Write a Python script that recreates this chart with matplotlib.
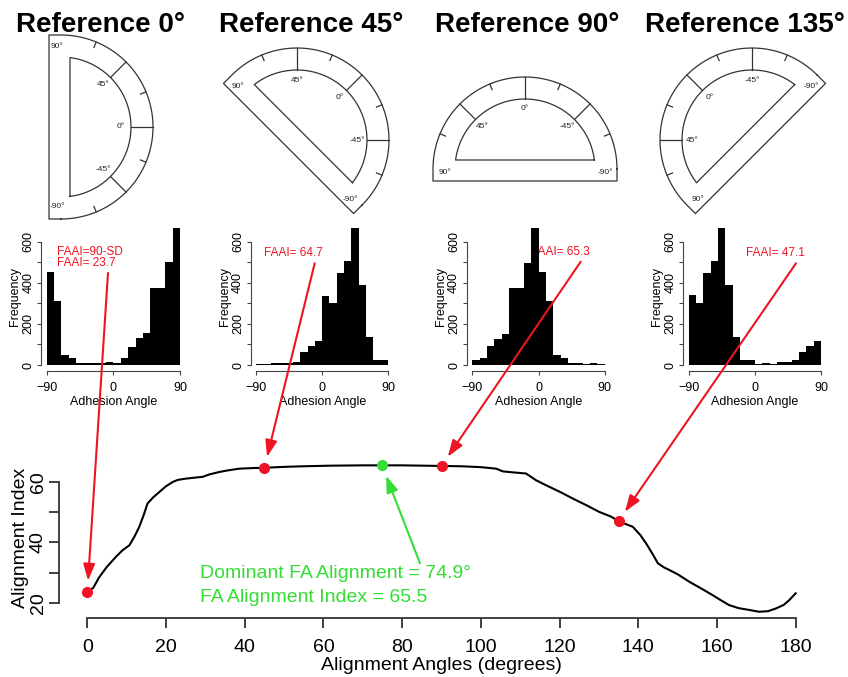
import matplotlib
matplotlib.use("Agg")
import matplotlib.pyplot as plt
import numpy as np

plt.rcParams["font.family"] = ["Liberation Sans", "DejaVu Sans"]

RED = "#ee1424"
GREEN = "#33dd33"
LINE = "#333333"

# ---------------- data ----------------
ref_titles = ["Reference 0°", "Reference 45°", "Reference 90°", "Reference 135°"]
ref_angles = [0, 45, 90, 135]

bin_edges = [-90, -80, -70, -60, -50, -40, -30, -20, -10, 0,
             10, 20, 30, 40, 50, 60, 70, 80, 90]
hist_ref0 = [454, 313, 49, 32, 11, 8, 8, 11, 16, 11, 32, 89, 130, 154, 373, 373, 502, 664]
hist_ref45 = [3, 5, 8, 11, 11, 16, 65, 92, 118, 335, 300, 446, 507, 664, 389, 135, 24, 24]
hist_ref90 = [24, 32, 92, 125, 151, 373, 373, 498, 664, 454, 313, 49, 32, 11, 11, 3, 8, 3]
hist_ref135 = [340, 300, 446, 507, 664, 389, 135, 24, 24, 5, 8, 5, 16, 16, 24, 65, 92, 118]

faai_values = [23.7, 64.7, 65.3, 47.1]
faai_labels = [["FAAI=90-SD", "FAAI= 23.7"], ["FAAI= 64.7"], ["FAAI= 65.3"], ["FAAI= 47.1"]]

align_angles = [0, 1.5, 3, 5, 7.3, 9, 10.7, 12, 13.2, 14.3, 15.3, 16.8, 18.3, 20, 21.7,
                23, 25, 27, 29.3, 31, 33.5, 36, 38.6, 42, 45, 50, 55, 62, 70, 74.9, 80,
                85, 90, 95, 100, 103.9, 105.6, 108, 111.5, 114, 116.6, 120, 123.4, 127,
                130.1, 133, 135, 137, 138.6, 140.5, 142, 143.5, 145, 146.5, 147.9, 150,
                153, 156, 158.9, 161, 163.1, 165.5, 168.2, 170.7, 173, 175, 177, 178.4, 180]
align_index = [23.7, 25.0, 28.5, 32.0, 35.3, 37.5, 39.1, 42.0, 45.2, 49.0, 52.9, 55.0, 56.7,
               58.6, 60.0, 60.7, 61.1, 61.4, 61.7, 62.5, 63.3, 63.9, 64.4, 64.6, 64.7, 65.0,
               65.2, 65.4, 65.5, 65.5, 65.5, 65.4, 65.3, 65.2, 64.9, 64.4, 63.5, 63.2, 62.8,
               60.6, 58.9, 56.8, 54.5, 52.2, 50.1, 48.6, 47.1, 46.0, 45.2, 42.5, 39.7, 36.5,
               33.1, 31.8, 30.9, 29.5, 27.0, 24.8, 22.6, 20.9, 19.3, 18.3, 17.7, 17.1, 17.3,
               18.2, 19.4, 21.0, 23.2]

dominant_angle = 74.9
dominant_index = 65.5

# ---------------- figure ----------------
W, H = 848, 677
fig = plt.figure(figsize=(W / 100, H / 100), dpi=100)


def rect(l, t, r, b):
    return [l / W, 1 - b / H, (r - l) / W, (b - t) / H]


def fpt(x, y):
    return (x / W, 1 - y / H)


overlay = fig.add_axes([0, 0, 1, 1], zorder=0)
overlay.set_xlim(0, W)
overlay.set_ylim(H, 0)
overlay.axis("off")


def protractor(ax, cx, cy, ref):
    R, r, back, front = 92, 70, 12, 9

    def P(rad, ang):
        a = np.radians(ang)
        return cx + rad * np.cos(a), cy - rad * np.sin(a)

    bdx = back * np.cos(np.radians(ref + 180))
    bdy = -back * np.sin(np.radians(ref + 180))

    arc = np.linspace(ref - 90, ref + 90, 181)
    xs = [P(R, a)[0] for a in arc]
    ys = [P(R, a)[1] for a in arc]
    xs += [xs[-1] + bdx, xs[0] + bdx, xs[0]]
    ys += [ys[-1] + bdy, ys[0] + bdy, ys[0]]
    ax.plot(xs, ys, color=LINE, lw=0.9)

    t0 = np.degrees(np.arcsin(front / r))
    arc_in = np.linspace(ref - 90 + t0, ref + 90 - t0, 181)
    xi = [P(r, a)[0] for a in arc_in]
    yi = [P(r, a)[1] for a in arc_in]
    xi.append(xi[0])
    yi.append(yi[0])
    ax.plot(xi, yi, color=LINE, lw=0.9)

    for off in (-45, 0, 45):
        a = ref + off
        x0, y0 = P(r, a)
        x1, y1 = P(R, a)
        ax.plot([x0, x1], [y0, y1], color=LINE, lw=0.9)
        lx, ly = P(60, a)
        ax.text(lx, ly, f"{off}°", fontsize=6, color="#222222", ha="center", va="center")
    for off in (-67.5, -22.5, 22.5, 67.5):
        a = ref + off
        x0, y0 = P(R - 6, a)
        x1, y1 = P(R, a)
        ax.plot([x0, x1], [y0, y1], color=LINE, lw=0.9)
    for off in (-90, 90):
        px, py = P(80, ref + off)
        ax.text(px + bdx / 3, py + bdy / 3, f"{off}°", fontsize=6, color="#222222",
                ha="center", va="center")


proto_centres = [(61, 127), (297, 140), (525, 169), (752, 140)]
title_x = [101, 311, 527, 745]
for title, ref, (cx, cy), tx in zip(ref_titles, ref_angles, proto_centres, title_x):
    protractor(overlay, cx, cy, ref)
    overlay.text(tx, 25, title, fontsize=20, fontweight="bold", ha="center", va="center")

# ---------------- histograms ----------------
hist_lr = [(41.3, 185.3), (251, 393.3), (467, 610), (683.4, 826.3)]
hist_data = [hist_ref0, hist_ref45, hist_ref90, hist_ref135]
text_pos = [(57, 252), (263.7, 253), (530.7, 252), (746, 253)]
hist_axes = []
for (l, r), counts, lines, (tx, ty) in zip(hist_lr, hist_data, faai_labels, text_pos):
    ax = fig.add_axes(rect(l, 223, r, 370.5), zorder=2)
    ax.patch.set_alpha(0)
    for k, line in enumerate(lines):
        ax.text(*fpt(tx, ty + 11.5 * k), line, transform=fig.transFigure, color=RED,
                fontsize=8.5, ha="left", va="center", zorder=0.5)
    ax.stairs(counts, bin_edges, fill=True, color="black", zorder=2)
    ax.set_xlim(-97.2, 97.2)
    ax.set_ylim(-26.6, 690.6)
    for s in ("top", "right"):
        ax.spines[s].set_visible(False)
    for s in ("left", "bottom"):
        ax.spines[s].set_color("#444444")
        ax.spines[s].set_linewidth(0.8)
    ax.spines["left"].set_bounds(0, 600)
    ax.spines["bottom"].set_bounds(-90, 90)
    ax.set_xticks([-90, 0, 90])
    ax.set_yticks([0, 100, 200, 300, 400, 500, 600])
    ax.set_yticklabels(["0", "", "200", "", "400", "", "600"])
    ax.tick_params(length=3, width=0.8, color="#444444", labelsize=9, pad=2)
    ax.tick_params(axis="x", pad=5)
    for lab in ax.get_yticklabels():
        lab.set_rotation(90)
        lab.set_va("center")
    ax.set_xlabel("Adhesion Angle", fontsize=9, labelpad=2)
    ax.set_ylabel("Frequency", fontsize=9, labelpad=1)
    hist_axes.append(ax)

# ---------------- alignment index curve ----------------
main = fig.add_axes(rect(59, 458, 824, 618), zorder=5)
main.patch.set_visible(False)
main.plot(align_angles, align_index, color="black", lw=1.5)
main.plot(ref_angles, faai_values, "o", color=RED, ms=7, zorder=4)
main.plot([dominant_angle], [dominant_index], "o", color=GREEN, ms=7, zorder=4)
main.set_xlim(-7.2, 187.2)
main.set_ylim(15.04, 67.93)
for s in ("top", "right"):
    main.spines[s].set_visible(False)
for s in ("left", "bottom"):
    main.spines[s].set_linewidth(1.3)
    main.spines[s].set_color("#333333")
main.spines["left"].set_bounds(20, 60)
main.spines["bottom"].set_bounds(0, 180)
main.set_xticks(range(0, 181, 20))
main.set_yticks([20, 30, 40, 50, 60])
main.set_yticklabels(["20", "", "40", "", "60"])
main.tick_params(length=7, width=1.3, color="#333333", labelsize=14)
main.tick_params(axis="x", pad=8)
main.tick_params(axis="y", pad=2)
for lab in main.get_yticklabels():
    lab.set_rotation(90)
    lab.set_va("center")
main.set_xlabel("Alignment Angles (degrees)", fontsize=14, labelpad=1)
main.set_ylabel("Alignment Index", fontsize=14, labelpad=0)

arrow_starts = [(108, 273), (314.7, 263.3), (580.7, 261.7), (796, 263.3)]
for (sx, sy), ang, val in zip(arrow_starts, ref_angles, faai_values):
    main.annotate("", xy=(ang, val), xycoords="data", xytext=fpt(sx, sy),
                  textcoords="figure fraction", annotation_clip=False,
                  arrowprops=dict(arrowstyle="-|>,head_length=1.0,head_width=0.35",
                                  color=RED, lw=1.5, shrinkA=0, shrinkB=8,
                                  mutation_scale=10))

main.annotate("", xy=(dominant_angle, dominant_index), xycoords="data",
              xytext=fpt(420, 563.3), textcoords="figure fraction", annotation_clip=False,
              arrowprops=dict(arrowstyle="-|>,head_length=1.0,head_width=0.35",
                              color=GREEN, lw=1.5, shrinkA=0, shrinkB=8, mutation_scale=10))

fig.text(*fpt(200, 573), f"Dominant FA Alignment = {dominant_angle}°", color=GREEN,
         fontsize=14, ha="left", va="center")
fig.text(*fpt(200, 598), f"FA Alignment Index = {dominant_index}", color=GREEN,
         fontsize=14, ha="left", va="center")

fig.savefig("out.png", dpi=100)
